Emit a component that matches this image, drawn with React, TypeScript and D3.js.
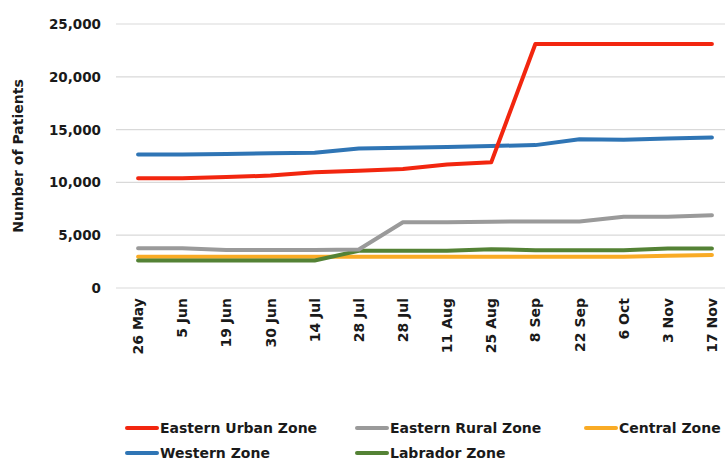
import { scaleBand, scaleLinear, line } from 'd3';

const dates = ['26 May', '5 Jun', '19 Jun', '30 Jun', '14 Jul', '28 Jul', '28 Jul ', '11 Aug', '25 Aug', '8 Sep', '22 Sep', '6 Oct', '3 Nov', '17 Nov'];
const easternUrban = [10400, 10400, 10500, 10650, 10950, 11100, 11270, 11700, 11900, 23100, 23100, 23100, 23100, 23100];
const easternRural = [3760, 3760, 3600, 3600, 3600, 3650, 6220, 6230, 6280, 6300, 6300, 6750, 6750, 6900];
const central = [2950, 2950, 2950, 2950, 2950, 2950, 2950, 2950, 2950, 2950, 2950, 2950, 3050, 3130];
const western = [12650, 12650, 12700, 12750, 12800, 13200, 13280, 13350, 13450, 13530, 14080, 14050, 14150, 14250];
const labrador = [2600, 2600, 2600, 2600, 2600, 3530, 3530, 3530, 3680, 3580, 3580, 3580, 3730, 3730];
const yTicks = [0, 5000, 10000, 15000, 20000, 25000];

const series = [
  { name: 'Eastern Urban Zone', values: easternUrban, color: '#f2260f' },
  { name: 'Eastern Rural Zone', values: easternRural, color: '#9a9a9a' },
  { name: 'Central Zone', values: central, color: '#f9ab25' },
  { name: 'Western Zone', values: western, color: '#2f75b5' },
  { name: 'Labrador Zone', values: labrador, color: '#548235' },
];
// draw order: back to front
const drawOrder = ['Central Zone', 'Labrador Zone', 'Eastern Rural Zone', 'Western Zone', 'Eastern Urban Zone'];

const width = 725;
const height = 460;
const margin = { top: 24, left: 116, bottom: 288 };
const font = "'DejaVu Sans', Verdana, sans-serif";

export default function App() {
  const x = scaleBand<string>().domain(dates).range([margin.left, 734]).padding(0);
  const y = scaleLinear().domain([0, 25000]).range([margin.bottom, margin.top]);
  const cx = (d: string) => (x(d) ?? 0) + x.bandwidth() / 2;

  const path = line<number>()
    .x((_, i) => cx(dates[i]))
    .y(v => y(v));

  const legendCols = [127, 357, 586];
  const legendRows = [428, 453];

  return (
    <svg width={width} height={height} style={{ position: 'absolute', left: 0, top: 0, background: '#fff' }} fontFamily={font}>
      {yTicks.map(t => (
        <g key={t}>
          <line x1={margin.left} x2={width} y1={y(t)} y2={y(t)} stroke="#d9d9d9" strokeWidth={1.2} />
          <text x={101} y={y(t) + 5} textAnchor="end" fontSize={13.5} fontWeight={700} fill="#1a1a1a">
            {t.toLocaleString('en-US')}
          </text>
        </g>
      ))}
      <text transform={`translate(23,${(margin.top + margin.bottom) / 2}) rotate(-90)`} textAnchor="middle" fontSize={14} fontWeight={700} fill="#1a1a1a">
        Number of Patients
      </text>

      {dates.map(d => (
        <text key={d} transform={`translate(${cx(d) + 5},${298}) rotate(-90)`} textAnchor="end" fontSize={14} fontWeight={700} fill="#1a1a1a">
          {d.trim()}
        </text>
      ))}

      {drawOrder.map(name => {
        const s = series.find(e => e.name === name)!;
        return <path key={name} d={path(s.values) ?? ''} fill="none" stroke={s.color} strokeWidth={4} strokeLinecap="round" strokeLinejoin="round" />;
      })}

      {series.map((s, i) => {
        const lx = legendCols[i % 3];
        const ly = legendRows[Math.floor(i / 3)];
        return (
          <g key={s.name}>
            <line x1={lx} x2={lx + 30} y1={ly} y2={ly} stroke={s.color} strokeWidth={4} strokeLinecap="round" />
            <text x={lx + 33} y={ly + 5} fontSize={14} fontWeight={700} fill="#1a1a1a">{s.name}</text>
          </g>
        );
      })}
    </svg>
  );
}
